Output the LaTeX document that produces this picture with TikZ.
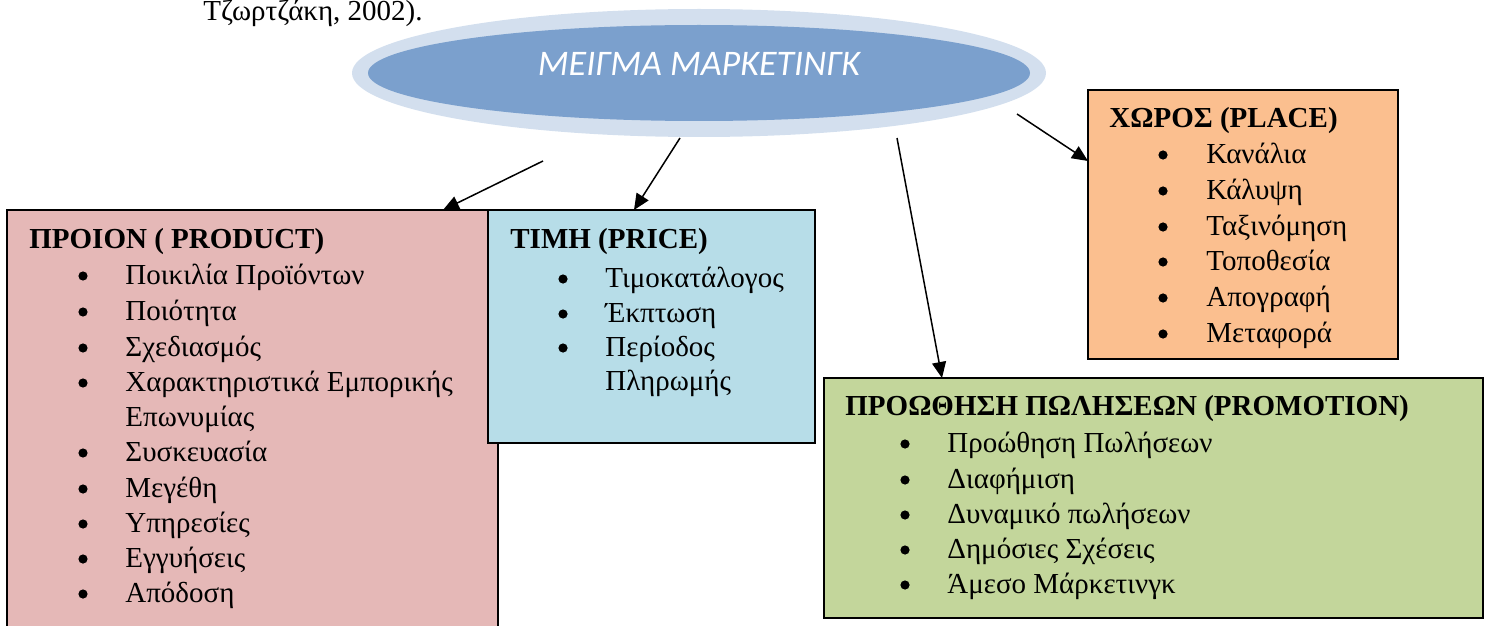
\documentclass[tikz,border=0pt]{standalone}
\usepackage{fontspec}
\setmainfont{Liberation Serif}
\newfontfamily\calib{Carlito}
\usetikzlibrary{shapes.geometric,arrows.meta}
\definecolor{prodc}{HTML}{E5B8B7}
\definecolor{pricec}{HTML}{B7DDE8}
\definecolor{placec}{HTML}{FBBF8F}
\definecolor{promoc}{HTML}{C3D69B}
\definecolor{ellout}{HTML}{D3DFEE}
\definecolor{ellin}{HTML}{7BA0CD}
\begin{document}
\begin{tikzpicture}[x=0.5pt,y=-0.5pt,
  box/.style={draw=black,line width=1pt,inner sep=0pt,rectangle},
  hdr/.style={anchor=base west,inner sep=0pt,font=\fontsize{14.5}{17}\selectfont\bfseries},
  itm/.style={anchor=base west,inner sep=0pt,font=\fontsize{14.5}{17}\selectfont},
  bul/.style={circle,fill=black,draw=none,inner sep=0pt,minimum size=4.6pt},
  arr/.style={-{Triangle[length=8pt,width=7pt]},line width=0.75pt}]
\useasboundingbox (0,0) rectangle (1489,626);
\clip (0,0) rectangle (1489,626);

% top text
\node[itm] (ref) at (203,21) {Τζωρτζάκη, 2002).};

% central ellipse
\node[ellipse,fill=ellout,draw=none,minimum width=347pt,minimum height=64pt,inner sep=0pt] (mix) at (699,73) {};
\fill[ellin] (mix.center) ellipse [x radius=165.5pt,y radius=24pt];
\node[anchor=base,inner sep=0pt,text=white,font=\calib\itshape\fontsize{18}{20}\selectfont] (mixt) at (699,76) {ΜΕΙΓΜΑ ΜΑΡΚΕΤΙΝΓΚ};

% boxes
\node[box,fill=prodc,minimum width=245.5pt,minimum height=220pt] (prod) at (252.5,430) {};
\node[box,fill=pricec,minimum width=163.5pt,minimum height=116.5pt] (price) at (651.5,326.5) {};
\node[box,fill=placec,minimum width=155pt,minimum height=134.5pt] (place) at (1243,224.5) {};
\node[box,fill=promoc,minimum width=329.5pt,minimum height=120pt] (promo) at (1153.5,498) {};

% product
\node[hdr] (ph) at (29,248) {ΠΡΟΙΟΝ ( PRODUCT)};
\foreach \y/\t [count=\i] in {284/Ποικιλία Προϊόντων,320/Ποιότητα,356/Σχεδιασμός,391/Χαρακτηριστικά Εμπορικής,461/Συσκευασία,497/Μεγέθη,532/Υπηρεσίες,567/Εγγυήσεις,602/Απόδοση}{
  \node[bul] (pb\i) at (83,\y-8) {};
  \node[itm] (pi\i) at (125,\y) {\t};
}
\node[itm] (pi4b) at (125,426) {Επωνυμίας};

% price
\node[hdr] (prh) at (510,248) {ΤΙΜΗ (PRICE)};
\foreach \y/\t [count=\i] in {287/Τιμοκατάλογος,322/Έκπτωση,356/Περίοδος}{
  \node[bul] (rb\i) at (563,\y-8) {};
  \node[itm] (ri\i) at (605,\y) {\t};
}
\node[itm] (ri3b) at (605,390) {Πληρωμής};

% place
\node[hdr] (plh) at (1109,128) {ΧΩΡΟΣ (PLACE)};
\foreach \y/\t [count=\i] in {163/Κανάλια,199/Κάλυψη,235/Ταξινόμηση,270/Τοποθεσία,306/Απογραφή,342/Μεταφορά}{
  \node[bul] (lb\i) at (1163,\y-8) {};
  \node[itm] (li\i) at (1206,\y) {\t};
}

% promotion
\node[hdr] (poh) at (845,415) {ΠΡΟΩΘΗΣΗ ΠΩΛΗΣΕΩΝ (PROMOTION)};
\foreach \y/\t [count=\i] in {452/Προώθηση Πωλήσεων,488/Διαφήμιση,523/Δυναμικό πωλήσεων,558/Δημόσιες Σχέσεις,593/Άμεσο Μάρκετινγκ}{
  \node[bul] (ob\i) at (905,\y-8) {};
  \node[itm] (oi\i) at (947,\y) {\t};
}

% connectors
\coordinate (s1) at (543,161); \coordinate (e1) at (443,210);
\coordinate (s2) at (680,138); \coordinate (e2) at (634,210);
\coordinate (s3) at (897,138); \coordinate (e3) at (942,378);
\coordinate (s4) at (1017,114); \coordinate (e4) at (1088,161);
\draw[arr] (s1) -- (e1);
\draw[arr] (s2) -- (e2);
\draw[arr] (s3) -- (e3);
\draw[arr] (s4) -- (e4);
\end{tikzpicture}
\end{document}
